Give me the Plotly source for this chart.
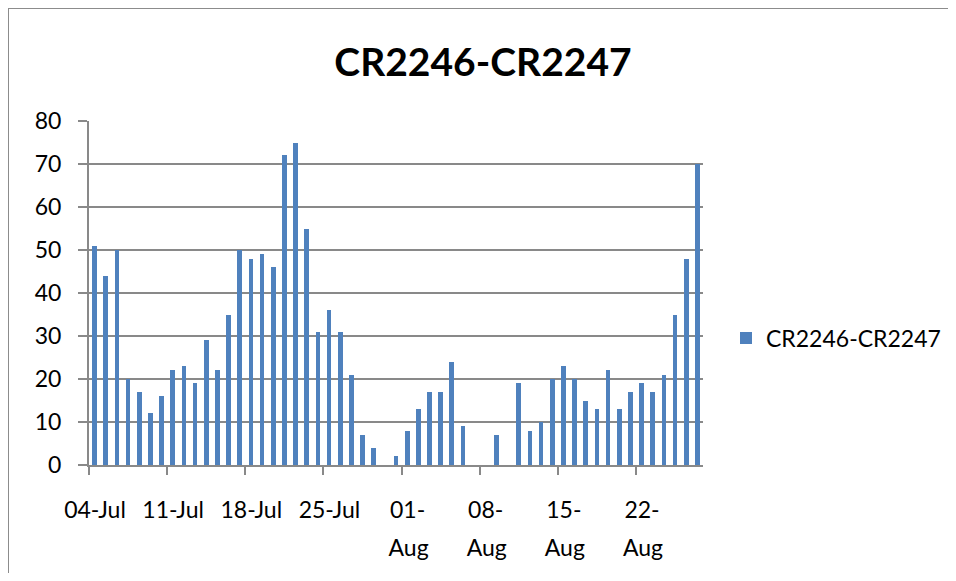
import pandas as pd
import plotly.graph_objects as go

series_name = "CR2246-CR2247"
start_date = "2013-07-04"
values = [51, 44, 50, 20, 17, 12, 16, 22, 23, 19, 29, 22, 35, 50, 48, 49, 46, 72, 75,
          55, 31, 36, 31, 21, 7, 4, 0, 2,
          8, 13, 17, 17, 24, 9, 0, 0, 7, 0, 19, 8, 10, 20, 23, 20, 15, 13, 22, 13,
          17, 19, 17, 21, 35, 48, 70]
dates = pd.date_range(start_date, periods=len(values), freq="D")

tick_dates = ["2013-07-04", "2013-07-11", "2013-07-18", "2013-07-25",
              "2013-08-01", "2013-08-08", "2013-08-15", "2013-08-22"]
tick_labels_top = ["04-Jul", "11-Jul", "18-Jul", "25-Jul", "01-", "08-", "15-", "22-"]
tick_labels_bottom = ["", "", "", "", "Aug", "Aug", "Aug", "Aug"]
y_ticks = list(range(0, 81, 10))

# page is rendered with an 8px body margin, so figure coords = page coords - 8
OFF = 8
W, H = 956 - 2 * OFF, 581 - 2 * OFF
L, R, T, B = 89 - OFF, 703 - OFF, 121 - OFF, 465 - OFF
grid = "#898989"
font_family = "Lato, 'Open Sans', sans-serif"
fs = 23

fig = go.Figure()
fig.add_trace(go.Bar(
    x=dates, y=values, name=series_name,
    xperiod=86400000, xperiodalignment="middle",
    width=0.42 * 86400000,
    marker=dict(color="#4F81BD", line=dict(width=0)),
))
# empty helper trace so the second (label-only) x axis gets drawn
fig.add_trace(go.Scatter(x=[], y=[], xaxis="x2", yaxis="y",
                         showlegend=False, hoverinfo="skip"))

px2x = lambda p: (p - OFF - L) / (R - L)
px2y = lambda p: (B - (p - OFF)) / (B - T)

fig.update_layout(
    width=W, height=H,
    margin=dict(l=L, r=W - R, t=T, b=H - B, pad=0, autoexpand=False),
    paper_bgcolor="white", plot_bgcolor="white",
    font=dict(family=font_family, color="black", size=fs),
    title=dict(text="<b>CR2246-CR2247</b>", x=(483 - OFF) / W, xanchor="center",
               y=1 - (62 - OFF) / H, yanchor="middle",
               font=dict(family=font_family, size=39, color="black")),
    showlegend=True,
    legend=dict(x=px2x(726), xanchor="left", y=px2y(338), yanchor="middle",
                font=dict(size=fs), bgcolor="rgba(0,0,0,0)"),
    bargap=0,
    xaxis=dict(
        type="date",
        range=["2013-07-04", "2013-08-28"],
        tickvals=tick_dates, ticktext=tick_labels_top,
        ticks="outside", ticklen=8, tickwidth=2, tickcolor=grid,
        showline=True, linecolor=grid, linewidth=2,
        showgrid=False, zeroline=False,
        ticklabelstandoff=15, ticklabelshift=6,
        tickfont=dict(size=fs),
    ),
    xaxis2=dict(
        type="date", matches="x", overlaying="x", anchor="y", side="bottom",
        range=["2013-07-04", "2013-08-28"],
        tickvals=tick_dates, ticktext=tick_labels_bottom,
        ticks="", showline=False, showgrid=False, zeroline=False,
        ticklabelstandoff=67, ticklabelshift=7,
        tickfont=dict(size=fs),
    ),
    yaxis=dict(
        range=[0, 80], tickvals=y_ticks,
        ticks="outside", ticklen=9, tickwidth=2, tickcolor=grid,
        showline=True, linecolor=grid, linewidth=2,
        showgrid=True, gridcolor=grid, gridwidth=2,
        zeroline=False,
        ticklabelstandoff=12,
        tickfont=dict(size=fs),
    ),
    shapes=[
        dict(type="line", xref="paper", yref="paper",
             x0=px2x(8), x1=px2x(8), y0=px2y(8), y1=px2y(600),
             line=dict(color="#8c8c8c", width=2)),
        dict(type="line", xref="paper", yref="paper",
             x0=px2x(8), x1=px2x(970), y0=px2y(8), y1=px2y(8),
             line=dict(color="#8c8c8c", width=2)),
    ],
)

fig.write_html("out.html")
